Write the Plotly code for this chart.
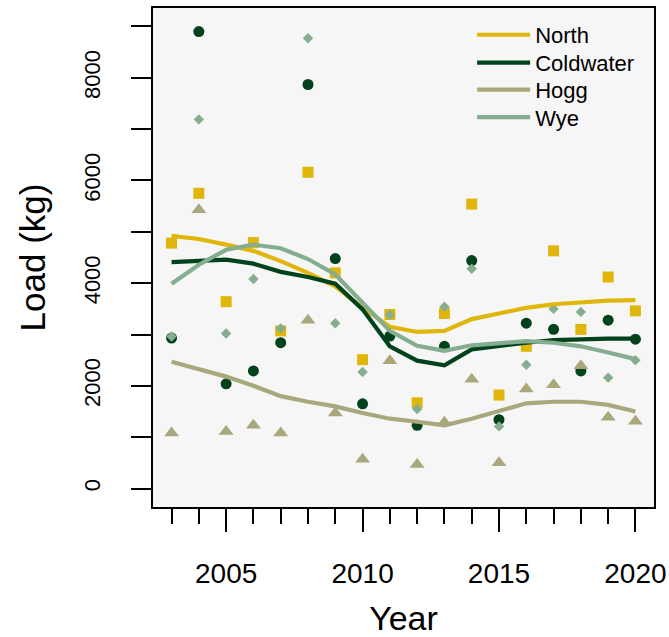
import plotly.graph_objects as go

years = list(range(2003, 2021))

# observed annual loads (kg)
north_pts = [4780, 5750, 3640, 4790, 3070, 6160, 4200, 2510, 3390, 1670,
             3410, 5540, 1820, 2770, 4630, 3100, 4120, 3460]
coldwater_pts = [2930, 8900, 2040, 2290, 2840, 7870, 4480, 1650, 2970, 1230,
                 2770, 4440, 1340, 3220, 3100, 2290, 3280, 2910]
hogg_pts = [1080, 5430, 1110, 1230, 1080, 3280, 1470, 570, 2490, 470,
            1290, 2130, 500, 1940, 2020, 2390, 1390, 1310]
wye_pts = [2960, 7190, 3020, 4080, 3120, 8770, 3220, 2270, 3380, 1550,
           3540, 4280, 1210, 2410, 3500, 3440, 2160, 2500]

# smoothed trends (kg)
north_fit = [4920, 4860, 4750, 4630, 4430, 4200, 3940, 3520, 3150, 3050,
             3070, 3300, 3410, 3520, 3590, 3630, 3660, 3670]
coldwater_fit = [4410, 4440, 4460, 4380, 4220, 4120, 3990, 3490, 2770, 2490,
                 2400, 2710, 2780, 2840, 2890, 2910, 2920, 2920]
hogg_fit = [2470, 2330, 2180, 2000, 1800, 1690, 1600, 1470, 1360, 1300,
            1230, 1360, 1520, 1660, 1690, 1690, 1630, 1500]
wye_fit = [3990, 4360, 4650, 4750, 4680, 4470, 4170, 3620, 3070, 2780,
           2680, 2790, 2840, 2870, 2840, 2770, 2650, 2520]

names = ["North", "Coldwater", "Hogg", "Wye"]
colors = ["#E0B60B", "#00421C", "#A9A87D", "#85AD8F"]
symbols = ["square", "circle", "triangle-up", "diamond"]
sizes = [11, 11, 13, 8]
pts = [north_pts, coldwater_pts, hogg_pts, wye_pts]
fits = [north_fit, coldwater_fit, hogg_fit, wye_fit]
legend_ids = ["legend", "legend2", "legend3", "legend4"]
legend_rows = [0.946, 0.890, 0.836, 0.781]

FONT = "Liberation Sans, Arial, sans-serif"

fig = go.Figure()
for n, c, s, sz, p in zip(names, colors, symbols, sizes, pts):
    fig.add_trace(go.Scatter(x=years, y=p, mode="markers", name=n, showlegend=False,
                             marker=dict(symbol=s, size=sz, color=c, line=dict(width=0))))
for n, c, f, lg in zip(names, colors, fits, legend_ids):
    fig.add_trace(go.Scatter(x=years, y=f, mode="lines", name=n, legend=lg,
                             line=dict(color=c, width=4.2)))

legend_style = dict(x=0.637, xanchor="left", yanchor="middle",
                    bgcolor="rgba(0,0,0,0)", font=dict(size=22, family=FONT),
                    itemwidth=53)
fig.update_layout(
    width=669, height=637,
    margin=dict(l=153, r=15, t=8, b=130),
    paper_bgcolor="white", plot_bgcolor="#f6f6f6",
    font=dict(family=FONT, color="black"),
    showlegend=True,
    **{lg: dict(y=ry, **legend_style) for lg, ry in zip(legend_ids, legend_rows)}
)
fig.update_xaxes(
    range=[2002.32, 2020.68], showgrid=False, zeroline=False, automargin=False,
    showline=True, mirror=True, linecolor="black", linewidth=1.5,
    tickmode="linear", tick0=2005, dtick=5, ticks="outside", ticklen=23,
    tickwidth=1.5, tickcolor="black", tickfont=dict(size=28),
    ticklabelstandoff=18,
    minor=dict(dtick=1, tick0=2003, ticks="outside", ticklen=15, tickwidth=1.5,
               tickcolor="black", showgrid=False),
    title=dict(text="Year", font=dict(size=34), standoff=29),
)
fig.update_yaxes(
    range=[-360, 9360], showgrid=False, zeroline=False, automargin=False,
    showline=True, mirror=True, linecolor="black", linewidth=1.5,
    tickmode="linear", tick0=0, dtick=2000, ticks="outside", ticklen=20,
    tickwidth=1.5, tickcolor="black", tickfont=dict(size=22), tickangle=-90,
    ticklabelstandoff=22,
    minor=dict(dtick=1000, tick0=0, ticks="outside", ticklen=20, tickwidth=1.5,
               tickcolor="black", showgrid=False),
    title=dict(text="Load (kg)", font=dict(size=35), standoff=24),
)

fig.write_html(
    "out.html",
    config={"displayModeBar": False},
    post_script="document.body.style.margin='0';document.body.style.overflow='hidden';",
)
